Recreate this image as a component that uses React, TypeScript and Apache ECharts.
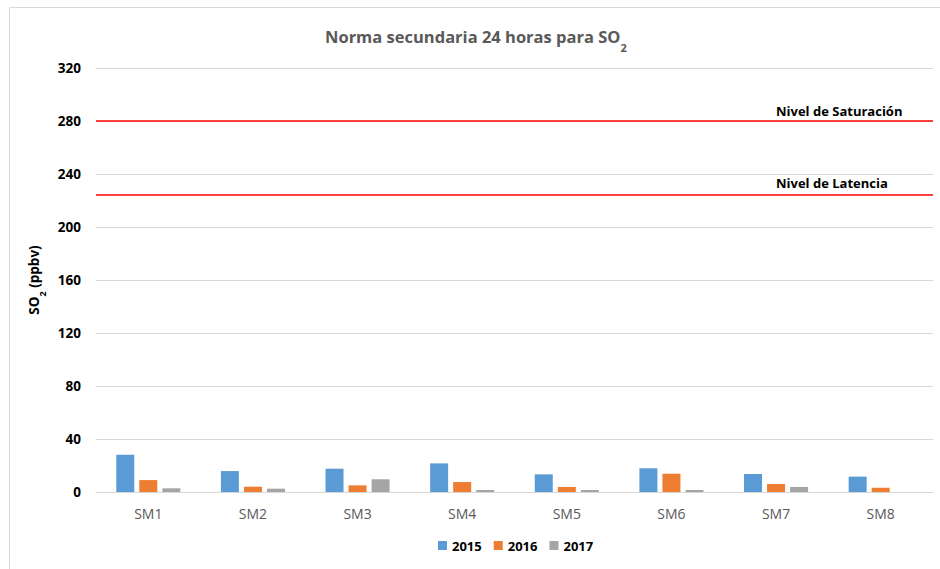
import React, { useEffect, useRef } from "react";
import * as echarts from "echarts";

const categories = ["SM1", "SM2", "SM3", "SM4", "SM5", "SM6", "SM7", "SM8"];
const years = ["2015", "2016", "2017"];
const values2015 = [28.2, 15.8, 17.6, 21.6, 13.3, 17.9, 13.6, 11.6];
const values2016 = [9.0, 4.0, 5.0, 7.5, 3.8, 13.8, 6.0, 3.2];
const values2017 = [2.8, 2.5, 9.6, 1.5, 1.5, 1.5, 3.8, 0];
const colors = ["#5B9BD5", "#ED7D31", "#A5A5A5"];
const saturationLevel = 280;
const latencyLevel = 224;
const saturationLabel = "Nivel de Saturación";
const latencyLabel = "Nivel de Latencia";
const yTicks = { min: 0, max: 320, interval: 40 };

const FONT = "'Open Sans', 'Noto Sans', sans-serif";

export default function App() {
  const ref = useRef<HTMLDivElement>(null);
  useEffect(() => {
    if (!ref.current) return;
    const chart = echarts.init(ref.current, undefined, { renderer: "svg" });
    const seriesData = [values2015, values2016, values2017];
    chart.setOption({
      animation: false,
      backgroundColor: "#ffffff",
      textStyle: { fontFamily: FONT },
      title: {
        text: "{a|Norma secundaria 24 horas para SO}{b|2}",
        left: 320,
        top: 20,
        textStyle: {
          rich: {
            a: { fontFamily: FONT, fontSize: 16.5, fontWeight: "bold", color: "#595959", lineHeight: 22, verticalAlign: "middle" },
            b: { fontFamily: FONT, fontSize: 11, fontWeight: "bold", color: "#595959", lineHeight: 22, verticalAlign: "bottom", padding: [0, 0, -6, 0] },
          },
        },
      },
      legend: {
        data: years,
        bottom: 12,
        left: 433,
        itemWidth: 9,
        itemHeight: 9,
        itemGap: 12,
        icon: "rect",
        textStyle: { fontFamily: FONT, fontSize: 13, fontWeight: "bold", color: "#000" },
      },
      grid: { left: 96, right: 7, top: 68, bottom: 77 },
      xAxis: {
        type: "category",
        data: categories,
        axisLine: { lineStyle: { color: "#d9d9d9", width: 1 } },
        axisTick: { show: false },
        axisLabel: { fontFamily: FONT, fontSize: 14, color: "#595959", margin: 14 },
      },
      yAxis: {
        type: "value",
        min: yTicks.min,
        max: yTicks.max,
        interval: yTicks.interval,
        name: "{a|SO}{b|2}{a| (ppbv)}",
        nameLocation: "middle",
        nameGap: 47,
        nameRotate: 90,
        nameTextStyle: {
          rich: {
            a: { fontFamily: FONT, fontSize: 13.5, fontWeight: "bold", color: "#000", lineHeight: 18, verticalAlign: "middle" },
            b: { fontFamily: FONT, fontSize: 9, fontWeight: "bold", color: "#000", lineHeight: 18, verticalAlign: "bottom", padding: [0, 0, -4, 0] },
          },
        },
        axisLine: { show: false },
        axisTick: { show: false },
        axisLabel: { fontFamily: FONT, fontSize: 13.5, fontWeight: "bold", color: "#000", margin: 15 },
        splitLine: { lineStyle: { color: "#d9d9d9", width: 1 } },
      },
      series: years.map((y, i) => ({
        name: y,
        type: "bar",
        data: seriesData[i],
        barWidth: 18,
        barGap: "28%",
        itemStyle: { color: colors[i] },
        ...(i === 0
          ? {
              markLine: {
                silent: true,
                symbol: "none",
                label: { show: false },
                lineStyle: { color: "#FF0000", width: 1.5, type: "solid" },
                data: [{ yAxis: saturationLevel }, { yAxis: latencyLevel }],
              },
            }
          : {}),
      })),
    });
    const ySat = chart.convertToPixel({ yAxisIndex: 0 }, saturationLevel) as number;
    const yLat = chart.convertToPixel({ yAxisIndex: 0 }, latencyLevel) as number;
    chart.setOption({
      graphic: [
        {
          type: "rect",
          shape: { x: 9.5, y: 7.5, width: 1200, height: 1200 },
          style: { fill: "none", stroke: "#d9d9d9", lineWidth: 1 },
          silent: true,
        },
        {
          type: "text",
          x: 776,
          y: ySat - 10,
          style: { text: saturationLabel, font: `bold 13px ${FONT}`, fill: "#000", textAlign: "left", textVerticalAlign: "middle" },
        },
        {
          type: "text",
          x: 776,
          y: yLat - 12,
          style: { text: latencyLabel, font: `bold 13px ${FONT}`, fill: "#000", textAlign: "left", textVerticalAlign: "middle" },
        },
      ],
    });
    return () => chart.dispose();
  }, []);
  return <div ref={ref} style={{ position: "absolute", left: 0, top: 0, width: 940, height: 569 }} />;
}
